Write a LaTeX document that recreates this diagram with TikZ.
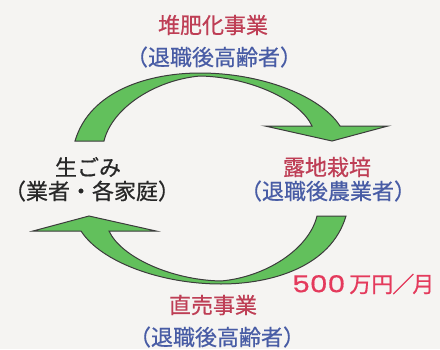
\documentclass[tikz,border=0pt]{standalone}
\usepackage{fontspec}
\usepackage{graphicx}
\newfontfamily\jp{Noto Sans CJK JP}[RawFeature={embolden=0.6}]
\newfontfamily\digitfont{Poppins}[RawFeature={embolden=0.5}]
\definecolor{bgc}{RGB}{245,244,242}
\definecolor{arrowfill}{RGB}{98,192,92}
\definecolor{arrowline}{RGB}{60,60,60}
\definecolor{redtxt}{RGB}{190,62,85}
\definecolor{pinktxt}{RGB}{228,58,92}
\definecolor{bluetxt}{RGB}{72,92,165}
\definecolor{blacktxt}{RGB}{40,40,40}
\tikzset{
  lbl/.style={inner sep=0pt, font=\jp\fontsize{22}{22}\selectfont},
  redlbl/.style={lbl, text=redtxt},
  bluelbl/.style={lbl, text=bluetxt},
  blacklbl/.style={lbl, text=blacktxt},
  cyclearrow/.style={fill=arrowfill, draw=arrowline, line width=1pt, line join=miter}
}
\begin{document}
\begin{tikzpicture}[x=1pt,y=-1pt]
\fill[bgc] (0,0) rectangle (440,349);
\useasboundingbox (0,0) rectangle (440,349);
% top arrow
\path[cyclearrow] (75,141) .. controls (90,90) and (150,73) .. (200,73)
  .. controls (260,73) and (320,95) .. (340,126)
  -- (388,126) -- (332,141) -- (265,126) -- (312,126)
  .. controls (300,100) and (250,77) .. (200,76)
  .. controls (155,80) and (112,108) .. (104,141) -- cycle;
% bottom arrow (rotated copy)
\begin{scope}[rotate around={180:(210.5,178.5)}]
\path[cyclearrow] (75,141) .. controls (90,90) and (150,73) .. (200,73)
  .. controls (260,73) and (320,95) .. (340,126)
  -- (388,126) -- (332,141) -- (265,126) -- (312,126)
  .. controls (300,100) and (250,77) .. (200,76)
  .. controls (155,80) and (112,108) .. (104,141) -- cycle;
\end{scope}
\node[redlbl] (compost) at (213,25) {堆肥化事業};
\node[bluelbl] (compostwho) at (214,57) {（退職後高齢者）};
\node[blacklbl] (waste) at (88,167) {生ごみ};
\node[blacklbl] (wastewho) at (92,191) {（業者・各家庭）};
\node[redlbl] (farm) at (327,167) {露地栽培};
\node[bluelbl] (farmwho) at (328,191) {（退職後農業者）};
\node[lbl, text=pinktxt, anchor=west] (income) at (292,284)
  {\scalebox{1.2}[1]{\digitfont\fontsize{23.5}{23.5}\selectfont 500}\hspace{4pt}\fontsize{22}{22}\selectfont 万円\kern-1pt／\kern-2pt月};
\node[redlbl] (sales) at (213,305) {直売事業};
\node[bluelbl] (saleswho) at (217,337) {（退職後高齢者）};
\end{tikzpicture}
\end{document}
